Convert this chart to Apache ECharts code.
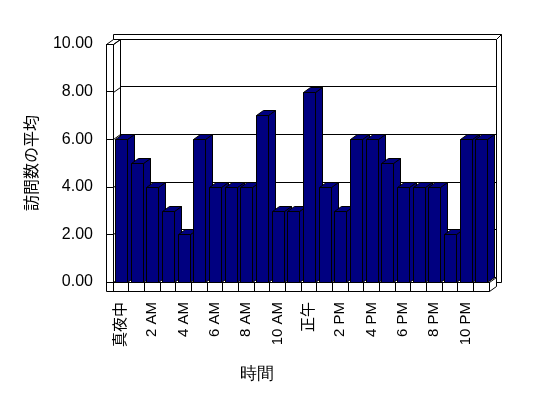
<!DOCTYPE html>
<html>
<head>
<meta charset="utf-8">
<script src="https://cdn.jsdelivr.net/npm/echarts@6/dist/echarts.min.js"></script>
<style>
  html, body { margin: 0; padding: 0; background: #fff; }
  #chart { width: 548px; height: 398px; }
</style>
</head>
<body>
<div id="chart"></div>
<script>
var hours = ['真夜中', '1 AM', '2 AM', '3 AM', '4 AM', '5 AM', '6 AM', '7 AM', '8 AM', '9 AM', '10 AM', '11 AM',
    '正午', '1 PM', '2 PM', '3 PM', '4 PM', '5 PM', '6 PM', '7 PM', '8 PM', '9 PM', '10 PM', '11 PM'];
var visits = [6, 5, 4, 3, 2, 6, 4, 4, 4, 7, 3, 3, 8, 4, 3, 6, 6, 5, 4, 4, 4, 2, 6, 6];
var yTicks = [0, 2, 4, 6, 8, 10];

var FONT = '"Liberation Sans", "Noto Sans CJK JP", sans-serif';
var DX = 7, DY = 5; // depth of the 3d look

var chart = echarts.init(document.getElementById('chart'));

function renderBar(params, api) {
    var i = api.value(0);
    var v = api.value(1);
    var base = api.coord([i, 0]);
    var top = api.coord([i, v]);
    var band = api.size([1, 0])[0];
    var w = Math.round(band * 0.78);
    var x0 = Math.round(base[0] - w / 2) + 0.5;
    var x1 = x0 + w;
    var yb = Math.round(base[1]) + 0.5;
    var yt = Math.round(top[1]) + 0.5;
    var st = { fill: '#000080', stroke: '#000', lineWidth: 1 };
    return {
        type: 'group',
        children: [
            { type: 'polygon', shape: { points: [[x1, yt], [x1 + DX, yt - DY], [x1 + DX, yb - DY], [x1, yb]] }, style: st },
            { type: 'polygon', shape: { points: [[x0, yt], [x0 + DX, yt - DY], [x1 + DX, yt - DY], [x1, yt]] }, style: st },
            { type: 'rect', shape: { x: x0, y: yt, width: w, height: yb - yt }, style: st }
        ]
    };
}

// slanted lines on the inner side of the left wall
function renderWallTick(params, api) {
    var p = api.coord([0, api.value(1)]);
    var band = api.size([1, 0])[0];
    var x = Math.round(p[0] - band / 2) + 0.5;
    var y = Math.round(p[1]) + 0.5;
    return {
        type: 'line',
        shape: { x1: x, y1: y, x2: x + DX, y2: y - DY },
        style: { stroke: '#000', lineWidth: 1 }
    };
}

var option = {
    animation: false,
    textStyle: { fontFamily: FONT },
    grid: [
        { left: 113, right: 59, top: 44, bottom: 116 },
        { left: 120, right: 52, top: 39, bottom: 121 }
    ],
    xAxis: [
        {
            type: 'category',
            gridIndex: 0,
            data: hours,
            axisLine: { show: true, lineStyle: { color: '#000', width: 1 } },
            axisTick: { show: true, interval: 0, length: 9, lineStyle: { color: '#000' } },
            axisLabel: { interval: 1, rotate: 90, margin: 20, fontSize: 15, color: '#000', fontFamily: FONT },
            splitLine: { show: false }
        },
        {
            type: 'value',
            gridIndex: 1,
            min: 0,
            max: 1,
            show: false
        }
    ],
    yAxis: [
        {
            type: 'value',
            gridIndex: 0,
            min: 0,
            max: 10,
            interval: 2,
            name: '訪問数の平均',
            nameLocation: 'middle',
            nameGap: 72,
            nameTextStyle: { fontSize: 16, color: '#000', fontFamily: FONT },
            axisLine: { show: false },
            axisTick: { show: true, length: 7, lineStyle: { color: '#000' } },
            axisLabel: {
                margin: 20, fontSize: 16, color: '#000', fontFamily: FONT,
                formatter: function (v) { return v.toFixed(2); }
            },
            splitLine: { show: false }
        },
        {
            type: 'value',
            gridIndex: 1,
            min: 0,
            max: 10,
            interval: 2,
            axisLine: { show: false },
            axisTick: { show: false },
            axisLabel: { show: false },
            splitLine: { show: true, lineStyle: { color: '#000', width: 1 } }
        }
    ],
    graphic: [
        // back wall thickness
        { type: 'rect', z: -3, shape: { x: 113.5, y: 34.5, width: 388, height: 248 }, style: { fill: '#fff', stroke: '#000', lineWidth: 1 } },
        // back wall face
        { type: 'rect', z: -2, shape: { x: 120.5, y: 39.5, width: 376, height: 238 }, style: { fill: '#fff', stroke: '#000', lineWidth: 1 } },
        { type: 'line', z: -2, shape: { x1: 496.5, y1: 39.5, x2: 501.5, y2: 34.5 }, style: { stroke: '#000', lineWidth: 1 } },
        // left wall top
        { type: 'polygon', z: -1, shape: { points: [[106.5, 44.5], [113.5, 44.5], [120.5, 39.5], [113.5, 39.5]] }, style: { fill: '#fff', stroke: '#000', lineWidth: 1 } },
        // floor right side
        { type: 'polygon', z: -1, shape: { points: [[489.5, 282.5], [496.5, 277.5], [496.5, 286.5], [489.5, 291.5]] }, style: { fill: '#fff', stroke: '#000', lineWidth: 1 } },
        // left wall + floor front faces
        { type: 'polygon', z: -1, shape: { points: [[106.5, 44.5], [113.5, 44.5], [113.5, 282.5], [489.5, 282.5], [489.5, 291.5], [106.5, 291.5]] }, style: { fill: '#fff', stroke: '#000', lineWidth: 1 } },
        {
            type: 'text', left: 240, top: 366, z: 5,
            style: { text: '時間', fontSize: 17, fill: '#000', font: '17px ' + FONT }
        }
    ],
    series: [
        {
            type: 'custom',
            name: 'wall',
            xAxisIndex: 0,
            yAxisIndex: 0,
            z: 1,
            renderItem: renderWallTick,
            data: yTicks.map(function (v) { return [0, v]; }),
            encode: { x: 0, y: 1 },
            silent: true
        },
        {
            type: 'custom',
            name: '訪問数の平均',
            xAxisIndex: 0,
            yAxisIndex: 0,
            z: 3,
            renderItem: renderBar,
            data: visits.map(function (v, i) { return [i, v]; }),
            encode: { x: 0, y: 1 }
        }
    ]
};

chart.setOption(option);
</script>
</body>
</html>
